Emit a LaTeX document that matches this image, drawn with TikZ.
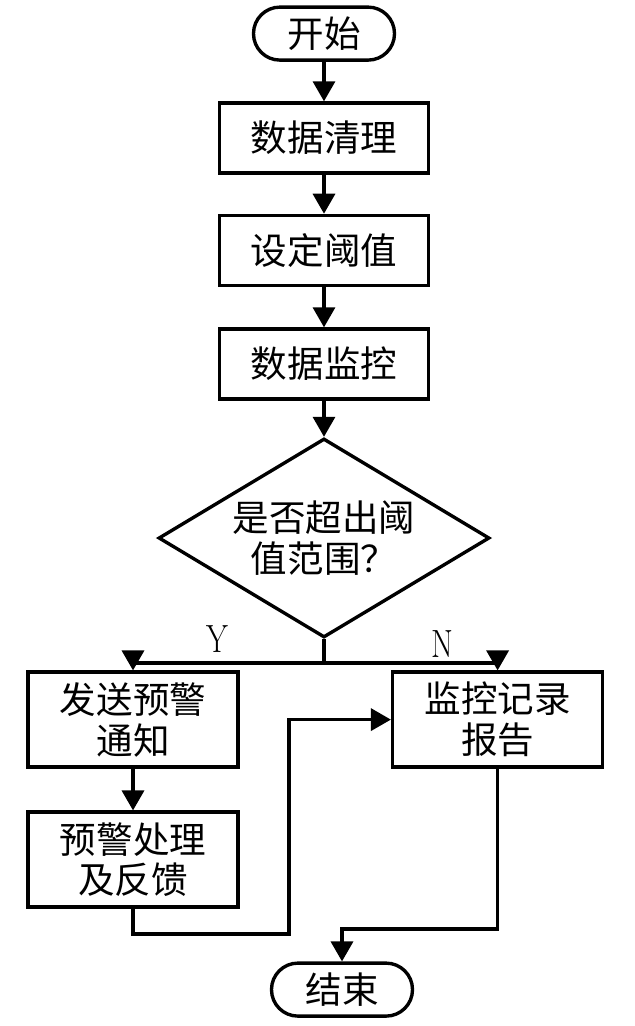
\documentclass[tikz,border=0pt]{standalone}
\usepackage{fontspec}
\newfontfamily\cjk{Noto Sans CJK SC}
\usetikzlibrary{shapes.geometric,arrows.meta}

\begin{document}
\begin{tikzpicture}[
	box/.style={draw,line width=2.4pt,minimum width=5.225cm,minimum height=1.75cm,inner sep=0pt,align=center,font=\cjk\fontsize{26}{29}\selectfont},
	tallbox/.style={box,minimum width=5.25cm,minimum height=2.375cm},
	term/.style={box,rounded corners=0.66cm,minimum width=3.525cm,minimum height=1.325cm},
	arr/.style={line width=2.4pt,-{Triangle[length=0.5cm,width=0.55cm]}},
	line/.style={line width=2.4pt},
	lab/.style={font=\fontsize{28}{28}\selectfont,xscale=0.8,transform shape}
]
	\useasboundingbox (0,0) rectangle (15.875,-25.65);
	\node[term] (start) at (8.1,-0.84) {开始};
	\node[box] (clean) at (8.1,-3.45) {数据清理};
	\node[box] (thresh) at (8.1,-6.26) {设定阈值};
	\node[box] (monitor) at (8.1,-9.1) {数据监控};
	\node[draw,line width=2.4pt,diamond,aspect=1.66,inner sep=1pt,minimum width=8.275cm,minimum height=4.975cm,align=center,font=\cjk\fontsize{26}{29}\selectfont] (check) at (8.1,-13.45) {是否超出阈\\值范围？};
	\node[tallbox] (warn) at (3.325,-17.99) {发送预警\\通知};
	\node[tallbox] (handle) at (3.325,-21.49) {预警处理\\及反馈};
	\node[tallbox] (record) at (12.44,-17.99) {监控记录\\报告};
	\node[term] (finish) at (8.55,-24.74) {结束};
	\node[lab] (ylab) at (5.425,-15.98) {Y};
	\node[lab] (nlab) at (11.05,-16.1) {N};
	\coordinate (split) at (8.1,-16.575);
	\coordinate (back) at (7.225,-23.35);
	\coordinate (down) at (12.44,-23.225);
	\path (start) edge[arr] (clean);
	\path (clean) edge[arr] (thresh);
	\path (thresh) edge[arr] (monitor);
	\path (monitor) edge[arr] (check);
	\draw[line] (check.south) -- (split);
	\draw[arr] (split) -| (warn.north);
	\draw[arr] (split) -| (record.north);
	\path (warn) edge[arr] (handle);
	\draw[arr] (handle.south) |- (back) |- (record.west);
	\draw[arr] (record.south) -- (down) -| (finish.north);
\end{tikzpicture}
\end{document}
